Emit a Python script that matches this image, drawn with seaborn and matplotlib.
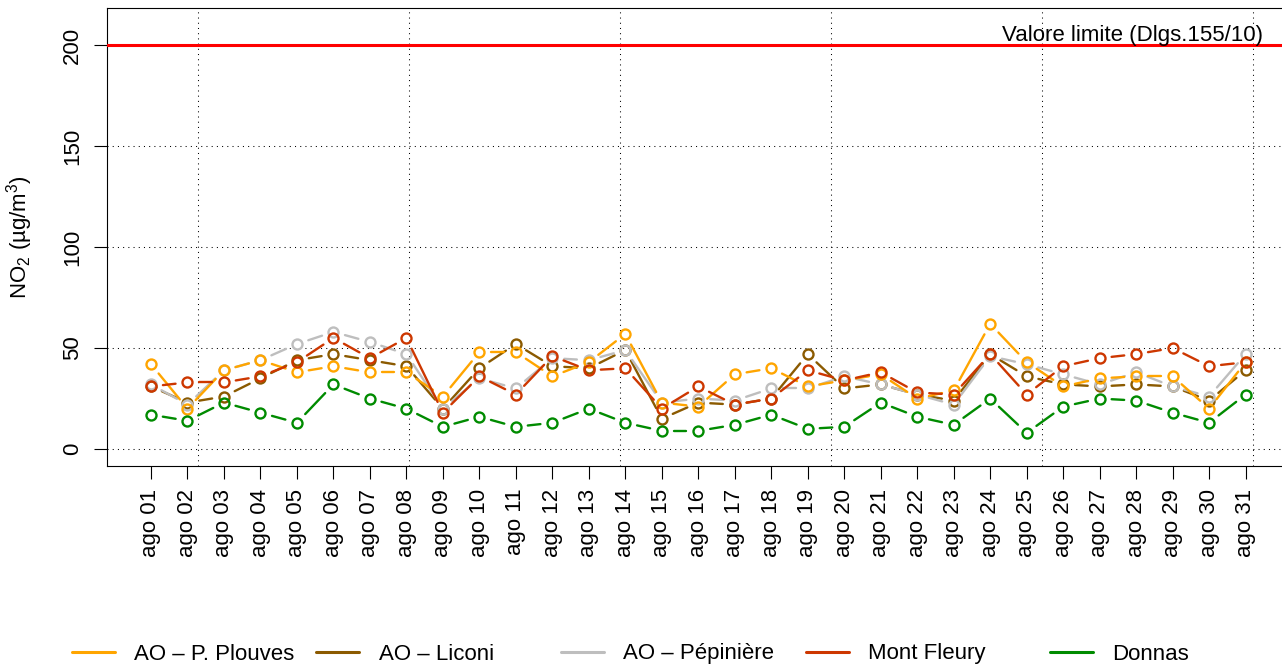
import numpy as np
import pandas as pd
import seaborn as sns
import matplotlib.pyplot as plt
from matplotlib.collections import LineCollection
from matplotlib.lines import Line2D

# daily NO2 values, August
days = list(range(1, 32))
day_labels = ['ago %02d' % d for d in days]

plouves = [42, 20, 39, 44, 38, 41, 38, 38, 26, 48, 48, 36, 43, 57, 23, 21,
           37, 40, 31, 34, 37, 25, 29, 62, 43, 31, 35, 36, 36, 20, 43]
liconi = [31, 23, 26, 35, 44, 47, 44, 41, 20, 40, 52, 41, 40, 49, 15, 23,
          22, 25, 47, 30, 32, 27, 24, 47, 36, 32, 31, 32, 31, 24, 39]
pepiniere = [32, 22, 39, 44, 52, 58, 53, 47, 20, 35, 30, 45, 44, 49, 23, 25,
             24, 30, 30, 36, 32, 27, 22, 46, 42, 37, 32, 38, 31, 26, 47]
mont_fleury = [31, 33, 33, 36, 43, 55, 45, 55, 18, 36, 27, 46, 39, 40, 20, 31,
               22, 25, 39, 34, 38, 28, 27, 47, 27, 41, 45, 47, 50, 41, 43]
donnas = [17, 14, 23, 18, 13, 32, 25, 20, 11, 16, 11, 13, 20, 13, 9, 9,
          12, 17, 10, 11, 23, 16, 12, 25, 8, 21, 25, 24, 18, 13, 27]

stations = ['AO – P. Plouves', 'AO – Liconi', 'AO – Pépinière', 'Mont Fleury', 'Donnas']
colors = ['#FFA500', '#8B5A00', '#BEBEBE', '#CD3700', '#008B00']
series = [plouves, liconi, pepiniere, mont_fleury, donnas]
draw_order = ['AO – Liconi', 'AO – Pépinière', 'AO – P. Plouves', 'Mont Fleury', 'Donnas']
limit_value = 200

df = pd.concat([pd.DataFrame({'day': days, 'value': v, 'station': s})
                for s, v in zip(stations, series)], ignore_index=True)
palette = dict(zip(stations, colors))

sns.set_theme(style='white')
plt.rcParams['font.family'] = ['Liberation Sans', 'DejaVu Sans']
plt.rcParams['mathtext.fontset'] = 'custom'
plt.rcParams['mathtext.rm'] = 'Liberation Sans'
plt.rcParams['mathtext.it'] = 'Liberation Sans:italic'
for k in ['text.color', 'axes.labelcolor', 'xtick.color', 'ytick.color']:
    plt.rcParams[k] = 'black'

W, H = 1282, 668
fig = plt.figure(figsize=(W / 100, H / 100), dpi=100)
ax = fig.add_axes([107.2 / W, 1 - 466 / H, 1182.2 / W, 458 / H])
ax.set_xlim(-0.2, 32.2)
ax.set_ylim(-8.4, 218.4)

# hollow markers
sns.lineplot(data=df, x='day', y='value', hue='station', hue_order=draw_order,
             palette=palette, marker='o', linestyle='', markersize=7.2,
             markeredgewidth=1.7, markerfacecolor='none', estimator=None,
             legend=False, ax=ax)
for i, line in enumerate(ax.lines):
    line.set_markeredgecolor(line.get_color())
    line.set_zorder(4 + i)

# lines with a gap around each point (like R type="b")
gap = 12
for i, s in enumerate(draw_order):
    sub = df[df.station == s]
    pts = ax.transData.transform(np.column_stack([sub.day, sub.value]))
    segs = []
    for p, q in zip(pts[:-1], pts[1:]):
        d = q - p
        L = np.hypot(*d)
        if L > 2 * gap:
            u = d / L
            segs.append(ax.transData.inverted().transform([p + u * gap, q - u * gap]))
    ax.add_collection(LineCollection(segs, colors=palette[s], linewidths=1.7,
                                     capstyle='round', zorder=4 + i))

# grid
for yv in [0, 50, 100, 150, 200]:
    ax.axhline(yv, color='black', lw=0.75, linestyle=(0, (1, 4)), zorder=1)
for xv in [2.29 + 5.78 * k for k in range(6)]:
    ax.axvline(xv, color='black', lw=0.75, linestyle=(0, (1, 4)), zorder=1)

ax.axhline(limit_value, color='red', lw=2.2, zorder=10)
ax.text(31.49, 202, 'Valore limite (Dlgs.155/10)', ha='right', va='baseline',
        fontsize=16, color='black', zorder=11)

ax.set_xticks(days)
ax.set_xticklabels(day_labels, rotation=90, fontsize=16)
ax.set_yticks([0, 50, 100, 150, 200])
ax.set_yticklabels(['0', '50', '100', '150', '200'], rotation=90, va='center', fontsize=16)
ax.tick_params(axis='x', length=9.4, width=0.8, pad=7, color='black', bottom=True)
ax.tick_params(axis='y', length=9.4, width=0.8, pad=8, color='black', left=True)
for sp in ax.spines.values():
    sp.set_color('black')
    sp.set_linewidth(0.8)
ax.set_xlabel('')
ax.set_ylabel(r'NO$_2$ (µg/m$^3$)', fontsize=16)
ax.yaxis.set_label_coords(-0.061, 0.5)

# legend: evenly spaced entries along the bottom
for k, (s, c) in enumerate(zip(stations, colors)):
    h = Line2D([], [], color=c, lw=2.2, solid_capstyle='round')
    fig.legend(handles=[h], labels=[s], loc='center left',
               bbox_to_anchor=((71.7 + 244.6 * k) / W, 1 - 654 / H),
               frameon=False, fontsize=16, handlelength=1.94,
               handletextpad=0.86, borderpad=0, borderaxespad=0)

fig.savefig('out.png', dpi=100)
